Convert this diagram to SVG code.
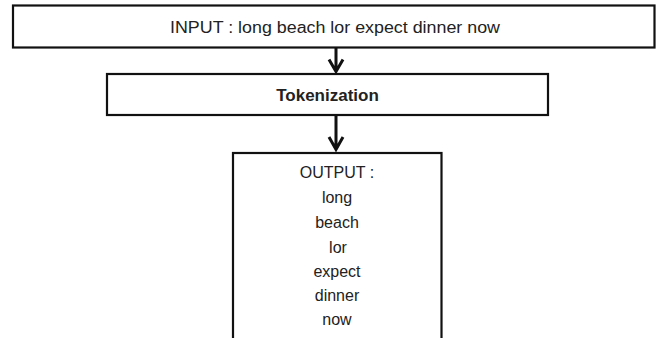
<svg xmlns="http://www.w3.org/2000/svg" width="659" height="338" viewBox="0 0 659 338">
<style>
.box{fill:#fff;stroke:#111;stroke-width:2.2}
.t{font-family:"Liberation Sans",Arial,sans-serif;font-size:16px;fill:#222;text-anchor:middle}
.b{font-weight:bold;font-size:17px}
.arr{fill:none;stroke:#111;stroke-width:3;stroke-linecap:butt;stroke-linejoin:miter}
</style>
<rect width="659" height="338" fill="#fff"/>
<g id="connectors">
<path class="arr" d="M336 47.5V71M329 59.5L336 71.5L343 59.5"/>
<path class="arr" d="M336 115V149M329 137L336 149.5L343 137"/>
</g>
<g id="input">
<rect class="box" x="13" y="5.5" width="641.5" height="42"/>
<text class="t" x="335" y="33" textLength="330" lengthAdjust="spacingAndGlyphs">INPUT : long beach lor expect dinner now</text>
</g>
<g id="tokenization">
<rect class="box" x="107" y="74" width="441" height="41"/>
<text class="t b" x="327.5" y="100.5">Tokenization</text>
</g>
<g id="output">
<rect class="box" x="233" y="153" width="208.5" height="200"/>
<text class="t" x="337" y="178">OUTPUT :</text>
<text class="t" x="337" y="203">long</text>
<text class="t" x="337" y="228">beach</text>
<text class="t" x="338" y="253">lor</text>
<text class="t" x="337" y="277">expect</text>
<text class="t" x="337" y="301">dinner</text>
<text class="t" x="337" y="325">now</text>
</g>
</svg>
